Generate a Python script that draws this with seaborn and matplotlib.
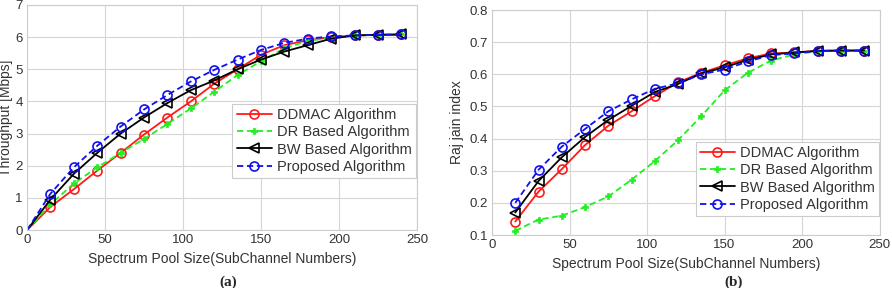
import numpy as np
import pandas as pd
import matplotlib
matplotlib.use("Agg")
import matplotlib.pyplot as plt
import seaborn as sns

sns.set_theme(style="whitegrid")
plt.rcParams['font.family'] = ['Liberation Sans', 'DejaVu Sans']

labels = ["DDMAC Algorithm", "DR Based Algorithm", "BW Based Algorithm", "Proposed Algorithm"]

x_a = [0, 15, 30, 45, 60, 75, 90, 105, 120, 135, 150, 165, 180, 195, 210, 225, 240]
ddmac_a = [0, 0.72, 1.27, 1.85, 2.40, 2.97, 3.50, 4.00, 4.55, 5.00, 5.45, 5.75, 5.90, 6.00, 6.05, 6.07, 6.08]
dr_a = [0, 0.80, 1.45, 1.95, 2.40, 2.83, 3.30, 3.78, 4.30, 4.82, 5.25, 5.65, 5.88, 5.98, 6.05, 6.07, 6.08]
bw_a = [0, 0.95, 1.75, 2.40, 3.00, 3.50, 3.95, 4.35, 4.65, 5.00, 5.30, 5.55, 5.75, 5.95, 6.05, 6.07, 6.08]
prop_a = [0, 1.13, 1.95, 2.62, 3.22, 3.75, 4.20, 4.62, 4.98, 5.30, 5.60, 5.82, 5.95, 6.02, 6.05, 6.07, 6.08]

x_b = [15, 30, 45, 60, 75, 90, 105, 120, 135, 150, 165, 180, 195, 210, 225, 240]
ddmac_b = [0.142, 0.235, 0.305, 0.380, 0.440, 0.485, 0.532, 0.575, 0.605, 0.628, 0.650, 0.665, 0.668, 0.673, 0.674, 0.674]
dr_b = [0.113, 0.148, 0.160, 0.187, 0.220, 0.272, 0.330, 0.395, 0.470, 0.550, 0.605, 0.643, 0.662, 0.672, 0.673, 0.674]
bw_b = [0.170, 0.268, 0.342, 0.405, 0.458, 0.502, 0.545, 0.570, 0.603, 0.622, 0.645, 0.662, 0.668, 0.673, 0.674, 0.674]
prop_b = [0.200, 0.303, 0.375, 0.430, 0.485, 0.522, 0.555, 0.572, 0.600, 0.615, 0.640, 0.660, 0.665, 0.673, 0.674, 0.674]

styles = [
    dict(color="#ff1a1a", ls="-", marker="o", mfc="none", ms=6.5, mew=1.2),
    dict(color="#22ee22", ls=(0, (3.5, 2.0)), marker="P", mfc="#22ee22", ms=4.5, mew=0.5),
    dict(color="#000000", ls="-", marker="<", mfc="none", ms=6.5, mew=1.2),
    dict(color="#1010ee", ls=(0, (3.5, 2.0)), marker="o", mfc="none", ms=6.5, mew=1.2),
]

fig = plt.figure(figsize=(8.92, 2.88), dpi=100)
ax1 = fig.add_axes([0.0303, 0.201, 0.4372, 0.782])
ax2 = fig.add_axes([0.5516, 0.184, 0.4345, 0.781])

def draw(ax, x, series, skip_first):
    handles = []
    for lab, y, st in zip(labels, series, styles):
        n_before = len(ax.lines)
        sns.lineplot(x=x, y=y, ax=ax, color=st["color"], legend=False)
        line = ax.lines[n_before]
        line.set_linestyle(st["ls"])
        line.set_linewidth(1.3)
        line.set_marker(st["marker"])
        line.set_markersize(st["ms"])
        line.set_markeredgewidth(st["mew"])
        line.set_markeredgecolor(st["color"])
        line.set_markerfacecolor(st["mfc"])
        line.set_label(lab)
        if skip_first:
            line.set_markevery(slice(1, None))
        handles.append(line)
    return handles

h1 = draw(ax1, x_a, [ddmac_a, dr_a, bw_a, prop_a], True)
h2 = draw(ax2, x_b, [ddmac_b, dr_b, bw_b, prop_b], False)

for ax in (ax1, ax2):
    ax.set_xlim(0, 250)
    ax.set_xticks([0, 50, 100, 150, 200, 250])
    ax.grid(True, color="#d6d6d6", lw=0.8)
    ax.set_facecolor("white")
    for s in ax.spines.values():
        s.set_color("#cccccc")
        s.set_linewidth(0.8)
    ax.tick_params(axis="both", labelsize=9.5, colors="#333333", length=0, pad=3)
    ax.set_xlabel("Spectrum Pool Size(SubChannel Numbers)", fontsize=10, color="#333333", labelpad=4)

ax1.set_ylim(0, 7)
ax1.set_yticks(range(0, 8))
ax1.set_ylabel("Throughput [Mbps]", fontsize=10, color="#333333", labelpad=2)
ax2.set_ylim(0.1, 0.8)
ax2.set_yticks([0.1, 0.2, 0.3, 0.4, 0.5, 0.6, 0.7, 0.8])
ax2.set_yticklabels(["0.1", "0.2", "0.3", "0.4", "0.5", "0.6", "0.7", "0.8"])
ax2.set_ylabel("Raj jain index", fontsize=10, color="#333333", labelpad=4)

for ax, hs, loc in ((ax1, h1, (0.526, 0.231)), (ax2, h2, (0.525, 0.084))):
    leg = ax.legend(handles=hs, loc="lower left", bbox_to_anchor=loc, fontsize=10.5, frameon=True,
                    fancybox=False, edgecolor="#cccccc", framealpha=1,
                    handlelength=2.4, handletextpad=0.35, labelspacing=0.22,
                    borderpad=0.3, borderaxespad=0)
    leg.get_frame().set_linewidth(0.8)
    for t in leg.get_texts():
        t.set_color("#333333")

fig.text(0.256, -0.005, "(a)", fontsize=11, fontweight="bold", family="Liberation Serif", ha="center", va="bottom")
fig.text(0.822, -0.005, "(b)", fontsize=11, fontweight="bold", family="Liberation Serif", ha="center", va="bottom")

fig.savefig("out.png", dpi=100)
